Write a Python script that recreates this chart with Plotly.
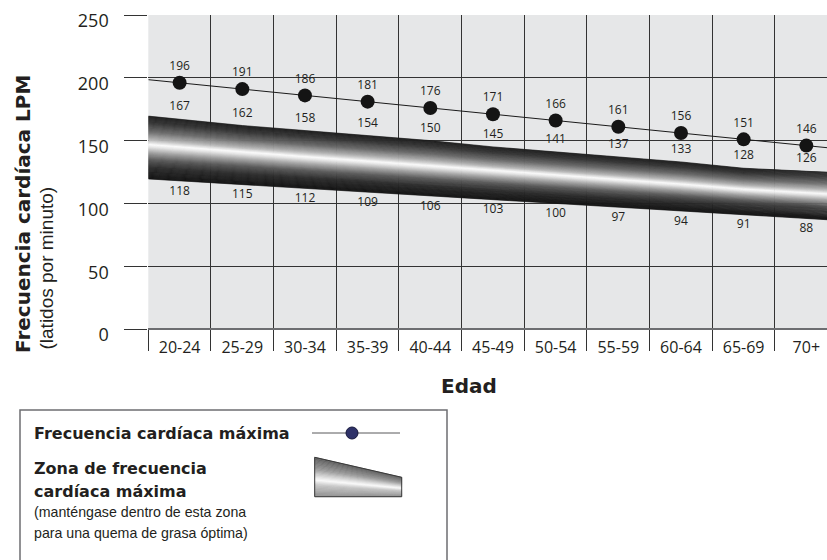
import numpy as np
import plotly.graph_objects as go

# ---- data ----
ages = ["20-24", "25-29", "30-34", "35-39", "40-44", "45-49",
        "50-54", "55-59", "60-64", "65-69", "70+"]
max_hr = [196, 191, 186, 181, 176, 171, 166, 161, 156, 151, 146]
zone_upper = [167, 162, 158, 154, 150, 145, 141, 137, 133, 128, 126]
zone_lower = [118, 115, 112, 109, 106, 103, 100, 97, 94, 91, 88]
y_ticks = [0, 50, 100, 150, 200, 250]

W, H = 827, 560
INK = "#231f20"
NUM_FONT = "Open Sans"
BOLD_FONT = "DejaVu Sans"
TEXT_FONT = "Liberation Sans"


def px(x):
    return x / W


def py(y):
    return 1 - y / H


def hex_to_rgb(h):
    h = h.lstrip("#")
    return [int(h[i:i + 2], 16) for i in (0, 2, 4)]


def make_gradient(stops):
    pos = [s[0] for s in stops]
    rgb = np.array([hex_to_rgb(s[1]) for s in stops], float)

    def f(t):
        c = [int(round(np.interp(t, pos, rgb[:, k]))) for k in range(3)]
        return "rgb(%d,%d,%d)" % tuple(c)
    return f


def extend(vals):
    """Values at column centres, extended half a column past each end."""
    v = np.asarray(vals, float)
    left = v[0] + (v[0] - v[1]) * 0.5
    right = v[-1] + (v[-1] - v[-2]) * 0.5
    return np.concatenate([[left], v, [right]])


n = len(ages)
idx = np.arange(n, dtype=float)
xs = np.concatenate([[-0.5], idx, [n - 0.5]])
x_range = [-0.5, 10.33]

fig = go.Figure()

# category axis carrier (grid, dividers and age labels)
fig.add_trace(go.Scatter(x=ages, y=max_hr, mode="markers",
                         marker=dict(opacity=0), hoverinfo="skip",
                         xaxis="x", yaxis="y"))

# ---- heart-rate zone band: shaded metallic tube ----
band_grad = make_gradient([
    (0.00, "#1c1c1c"), (0.12, "#383838"), (0.25, "#6a6a6a"),
    (0.37, "#b0b0b0"), (0.46, "#fbfbfb"), (0.50, "#e4e4e4"),
    (0.58, "#a6a6a6"), (0.70, "#5a5a5a"), (0.83, "#2c2c2c"),
    (1.00, "#141414")])
up = extend(zone_upper)
lo = extend(zone_lower)
N = 60
for k in range(N):
    t0, t1 = k / N, (k + 1) / N
    e0 = up + (lo - up) * t0
    e1 = up + (lo - up) * t1
    col = band_grad((t0 + t1) / 2)
    fig.add_trace(go.Scatter(
        x=list(xs) + list(xs[::-1]), y=list(e0) + list(e1[::-1]),
        mode="lines", fill="toself", fillcolor=col,
        line=dict(color=col, width=0.7), hoverinfo="skip",
        xaxis="x2", yaxis="y"))

# ---- maximum heart rate line and points ----
fig.add_trace(go.Scatter(x=xs, y=extend(max_hr), mode="lines",
                         line=dict(color="#1a1a1a", width=1),
                         hoverinfo="skip", xaxis="x2", yaxis="y"))
fig.add_trace(go.Scatter(x=idx, y=max_hr, mode="markers+text",
                         marker=dict(size=14, color="#141414"),
                         text=[str(v) for v in max_hr],
                         textposition="top center",
                         textfont=dict(family=NUM_FONT, size=12, color=INK),
                         cliponaxis=False, xaxis="x2", yaxis="y"))

# zone value labels
fig.add_trace(go.Scatter(x=idx, y=zone_upper, mode="markers+text",
                         marker=dict(size=8, opacity=0),
                         text=[str(v) for v in zone_upper],
                         textposition="top center",
                         textfont=dict(family=NUM_FONT, size=12, color=INK),
                         hoverinfo="skip", xaxis="x2", yaxis="y"))
fig.add_trace(go.Scatter(x=idx, y=zone_lower, mode="markers+text",
                         marker=dict(size=6, opacity=0),
                         text=[str(v) for v in zone_lower],
                         textposition="bottom center",
                         textfont=dict(family=NUM_FONT, size=12, color=INK),
                         hoverinfo="skip", xaxis="x2", yaxis="y"))

# ---- legend box ----
shapes = [
    dict(type="rect", xref="paper", yref="paper",
         x0=px(20), x1=px(447), y0=py(575), y1=py(410),
         line=dict(color="#6d6e71", width=1.5), fillcolor="rgba(0,0,0,0)"),
    dict(type="line", xref="paper", yref="paper",
         x0=px(312), x1=px(400), y0=py(433), y1=py(433),
         line=dict(color="#58595b", width=1)),
    dict(type="circle", xref="paper", yref="paper",
         x0=px(346), x1=px(358), y0=py(439), y1=py(427),
         fillcolor="#2e3168", line=dict(color="#15163a", width=1)),
]

# legend swatch of the zone band
leg_grad = make_gradient([
    (0.00, "#5a5a5a"), (0.30, "#979797"), (0.50, "#e0e0e0"),
    (0.58, "#fafafa"), (0.72, "#c4c4c4"), (1.00, "#909090")])
lx0, lx1 = 314.7, 401.7
ly_top0, ly_top1, ly_bot = 457.3, 477.3, 496.7
M = 30
for k in range(M):
    t0, t1 = k / M, (k + 1) / M
    a0 = ly_top0 + (ly_bot - ly_top0) * t0
    a1 = ly_top0 + (ly_bot - ly_top0) * t1
    b0 = ly_top1 + (ly_bot - ly_top1) * t0
    b1 = ly_top1 + (ly_bot - ly_top1) * t1
    col = leg_grad((t0 + t1) / 2)
    path = "M %f %f L %f %f L %f %f L %f %f Z" % (
        px(lx0), py(a0), px(lx1), py(b0), px(lx1), py(b1), px(lx0), py(a1))
    shapes.append(dict(type="path", xref="paper", yref="paper", path=path,
                       fillcolor=col, line=dict(color=col, width=0.6)))
shapes.append(dict(
    type="path", xref="paper", yref="paper",
    path="M %f %f L %f %f L %f %f L %f %f Z" % (
        px(lx0), py(ly_top0), px(lx1), py(ly_top1),
        px(lx1), py(ly_bot), px(lx0), py(ly_bot)),
    line=dict(color="#3a3a3a", width=1), fillcolor="rgba(0,0,0,0)"))

annotations = [
    dict(text="<b>Frecuencia cardíaca LPM</b>", textangle=-90,
         xref="paper", yref="paper", x=px(23), y=py(355),
         xanchor="center", yanchor="bottom", showarrow=False,
         font=dict(family=BOLD_FONT, size=20, color=INK)),
    dict(text="(latidos por minuto)", textangle=-90,
         xref="paper", yref="paper", x=px(46), y=py(352),
         xanchor="center", yanchor="bottom", showarrow=False,
         font=dict(family=TEXT_FONT, size=19, color=INK)),
    dict(text="<b>Edad</b>", xref="paper", yref="paper",
         x=px(469), y=py(386), xanchor="center", yanchor="middle",
         showarrow=False, font=dict(family=BOLD_FONT, size=20, color=INK)),
]
legend_lines = [
    ("<b>Frecuencia cardíaca máxima</b>", 433, BOLD_FONT, 16),
    ("<b>Zona de frecuencia</b>", 468, BOLD_FONT, 16),
    ("<b>cardíaca máxima</b>", 491, BOLD_FONT, 16),
    ("(manténgase dentro de esta zona", 512, TEXT_FONT, 14.2),
    ("para una quema de grasa óptima)", 533, TEXT_FONT, 14.2),
]
for txt, yy, fam, sz in legend_lines:
    annotations.append(dict(text=txt, xref="paper", yref="paper",
                            x=px(32), y=py(yy), xanchor="left",
                            yanchor="middle", showarrow=False,
                            font=dict(family=fam, size=sz, color=INK)))

dom_x = [px(148.3), 1]
fig.update_layout(
    width=W, height=H, margin=dict(l=0, r=0, t=0, b=0, autoexpand=False),
    paper_bgcolor="white", plot_bgcolor="#e6e7e8", showlegend=False,
    xaxis=dict(type="category", categoryorder="array", categoryarray=ages,
               domain=dom_x, range=x_range, tickson="boundaries",
               ticks="outside", ticklen=21, tickwidth=1, tickcolor="#333333",
               showgrid=True, gridcolor="#333333", gridwidth=1,
               zeroline=False, showline=False, anchor="y",
               tickfont=dict(family=NUM_FONT, size=16, color=INK),
               ticklabelstandoff=7),
    xaxis2=dict(overlaying="x", domain=dom_x, range=x_range, visible=False,
                anchor="y"),
    yaxis=dict(domain=[py(329), py(15)], range=[0, 250], tickvals=y_ticks,
               ticks="outside", ticklen=23, tickwidth=1, tickcolor="#333333",
               showgrid=True, gridcolor="#333333", gridwidth=1,
               zeroline=True, zerolinecolor="#6d6e71", zerolinewidth=1.5,
               showline=False,
               tickfont=dict(family=NUM_FONT, size=18, color=INK),
               ticklabelstandoff=12, ticklabelshift=6),
    shapes=shapes, annotations=annotations,
)

fig.write_html("out.html")
